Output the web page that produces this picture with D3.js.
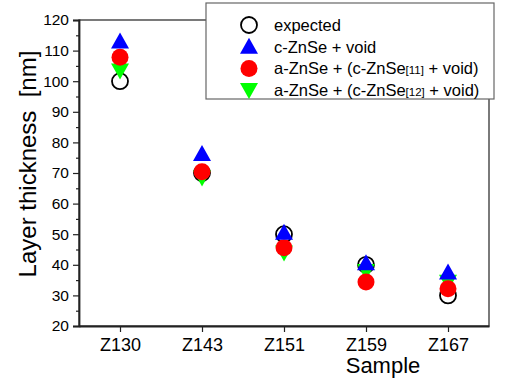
<!DOCTYPE html>
<html>
<head>
<meta charset="utf-8">
<script src="https://cdn.jsdelivr.net/npm/d3@7"></script>
<style>
  body { margin: 0; background: #fff; }
  text { font-family: "Liberation Sans", Arial, sans-serif; fill: #000; }
</style>
</head>
<body>
<div id="chart"></div>
<script>
// values
var samples = ["Z130", "Z143", "Z151", "Z159", "Z167"];
var expected = [100, 70, 50, 40, 30];
var cZnSeVoid = [113, 76.2, 50.5, 40.5, 37.5];
var aZnSe11 = [107.8, 70.4, 45.6, 34.4, 32.2];
var aZnSe12 = [103.5, 68.5, 44, 38, 34.5];
var yTicks = [20, 30, 40, 50, 60, 70, 80, 90, 100, 110, 120];

var W = 508, H = 378;
var margin = { top: 20, right: 19, bottom: 52, left: 79 };
var width = W - margin.left - margin.right;
var height = H - margin.top - margin.bottom;

var svg = d3.select("#chart").append("svg")
  .attr("width", W).attr("height", H);
var g = svg.append("g")
  .attr("transform", "translate(" + margin.left + "," + margin.top + ")");

var x = d3.scalePoint().domain(samples).range([0, width]).padding(0.5);
var y = d3.scaleLinear().domain([20, 120]).range([height, 0]);

// frame (top + right)
g.append("rect")
  .attr("width", width).attr("height", height)
  .attr("fill", "none").attr("stroke", "#333").attr("stroke-width", 1.3);

// y axis, minor ticks then major
g.append("g")
  .call(d3.axisLeft(y).tickValues(d3.range(25, 120, 10)).tickSize(3).tickFormat(""))
  .call(function(a) { a.select(".domain").remove(); });
var yAxis = g.append("g")
  .call(d3.axisLeft(y).tickValues(yTicks).tickSize(6).tickPadding(4));
yAxis.selectAll("text").style("font-size", "15.5px");

var xAxis = g.append("g")
  .attr("transform", "translate(0," + height + ")")
  .call(d3.axisBottom(x).tickSize(6).tickPadding(6).tickSizeOuter(0));
xAxis.selectAll("text").style("font-size", "18px");

g.selectAll(".domain").attr("stroke", "#222").attr("stroke-width", 1.8);
g.selectAll(".tick line").attr("stroke", "#222").attr("stroke-width", 1.2);

// axis titles
svg.append("text")
  .attr("transform", "translate(36," + 164 + ") rotate(-90)")
  .attr("text-anchor", "middle")
  .style("font-size", "24px")
  .style("white-space", "pre")
  .text("Layer thickness  [nm]");

svg.append("text")
  .attr("x", 383).attr("y", 373)
  .attr("text-anchor", "middle")
  .style("font-size", "22px")
  .text("Sample");

var series = [
  { name: "expected", values: expected, type: "circle", fill: "none" },
  { name: "c-ZnSe + void", values: cZnSeVoid, type: "up", fill: "#0000ff" },
  { name: "a-ZnSe + (c-ZnSe|11| + void)", values: aZnSe11, type: "circleFill", fill: "#ff0000" },
  { name: "a-ZnSe + (c-ZnSe|12| + void)", values: aZnSe12, type: "down", fill: "#00ff00" }
];

function marker(sel, s) {
  if (s.type === "circle") {
    sel.append("circle").attr("r", 8)
      .attr("fill", "none").attr("stroke", "#000").attr("stroke-width", 1.8);
  } else if (s.type === "circleFill") {
    sel.append("circle").attr("r", 8.5).attr("fill", s.fill);
  } else {
    var d = s.type === "up" ? "M0,-9L9,7L-9,7Z" : "M0,9L9,-7L-9,-7Z";
    sel.append("path").attr("d", d).attr("fill", s.fill);
  }
}

// circle first, then green, red, blue on top
var drawOrder = [0, 3, 2, 1];
drawOrder.forEach(function(k) {
  var s = series[k];
  g.selectAll(".m" + k)
    .data(s.values)
    .enter().append("g")
    .attr("class", "m" + k)
    .attr("transform", function(d, i) { return "translate(" + x(samples[i]) + "," + y(d) + ")"; })
    .each(function() { marker(d3.select(this), s); });
});

// legend
var legend = svg.append("g").attr("transform", "translate(206,3)");
legend.append("rect")
  .attr("width", 288).attr("height", 96)
  .attr("fill", "#fff").attr("stroke", "#666").attr("stroke-width", 1.2);

series.forEach(function(s, i) {
  var row = legend.append("g").attr("transform", "translate(43," + (22 + i * 21.7) + ")");
  marker(row, s);
  var t = row.append("text").attr("x", 25).attr("y", 6).style("font-size", "16.5px");
  var parts = s.name.split("|");
  t.append("tspan").text(parts[0]);
  if (parts.length > 1) {
    t.append("tspan").style("font-size", "11.5px").text("[" + parts[1] + "]");
    t.append("tspan").text(parts[2]);
  }
});
</script>
</body>
</html>
